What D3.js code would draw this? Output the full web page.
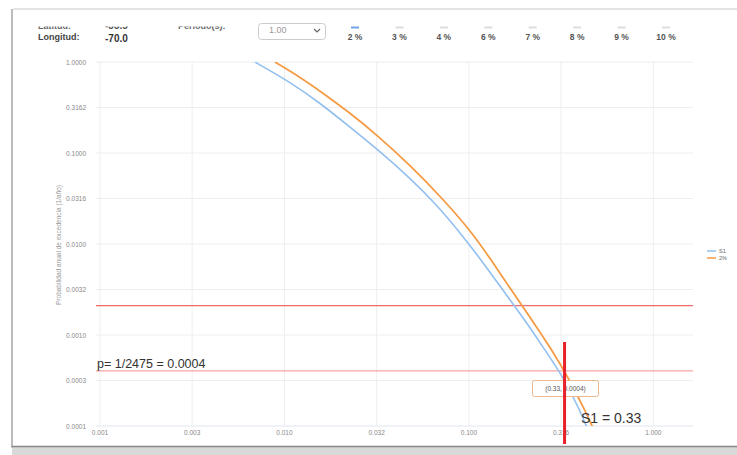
<!DOCTYPE html>
<html>
<head>
<meta charset="utf-8">
<script src="https://d3js.org/d3.v7.min.js"></script>
<style>
  body { margin: 0; background: #fff; }
  svg { display: block; font-family: "Liberation Sans", Arial, sans-serif; }
</style>
</head>
<body>
<script>
// curve values (x = S1 [g], y = annual exceedance probability)
var blueX = [0.00692, 0.01071, 0.01558, 0.02265, 0.03377, 0.04789, 0.06709, 0.09165, 0.1221, 0.1567, 0.2012, 0.2582, 0.3192, 0.3996, 0.4416];
var blueY = [1.0, 0.6029, 0.3544, 0.1931, 0.1, 0.05313, 0.02683, 0.01256, 0.005878, 0.002894, 0.001462, 0.000684, 0.0003634, 0.0001499, 0.00009037];
var orangeX = [0.00888, 0.01213, 0.01617, 0.02265, 0.03173, 0.04789, 0.07227, 0.1013, 0.1300, 0.1710, 0.2196, 0.2818, 0.3440, 0.4253, 0.4818];
var orangeY = [1.0, 0.6843, 0.4563, 0.2752, 0.1577, 0.07382, 0.03124, 0.01425, 0.007017, 0.003045, 0.001462, 0.000684, 0.0003455, 0.0001499, 0.0000859];

var xTicks = [0.001, 0.00316, 0.01, 0.0316, 0.1, 0.316, 1];
var xTickLabels = ["0.001", "0.003", "0.010", "0.032", "0.100", "0.316", "1.000"];
var yTicks = [1, 0.3162, 0.1, 0.0316, 0.01, 0.00316, 0.001, 0.000316, 0.0001];
var yTickLabels = ["1.0000", "0.3162", "0.1000", "0.0316", "0.0100", "0.0032", "0.0010", "0.0003", "0.0001"];

var refProbs = [1 / 475, 1 / 2475];
var pointX = 0.33;
var pointY = 0.0004;
var seriesNames = ["S1", "2%"];
var periodLabels = ["2 %", "3 %", "4 %", "6 %", "7 %", "8 %", "9 %", "10 %"];

var width = 737, height = 455;
var svg = d3.select("body").append("svg").attr("width", width).attr("height", height);

// frame of the screenshot
svg.append("rect").attr("x", 0).attr("y", 0).attr("width", width).attr("height", height).attr("fill", "#fff");
svg.append("line").attr("x1", 13).attr("x2", 737).attr("y1", 9).attr("y2", 9).attr("stroke", "#e4e4e4").attr("stroke-width", 2);
svg.append("line").attr("x1", 12).attr("x2", 12).attr("y1", 9).attr("y2", 448).attr("stroke", "#bbb").attr("stroke-width", 2);
svg.append("rect").attr("x", 12).attr("y", 446).attr("width", 725).attr("height", 9).attr("fill", "#d9d9d9");
svg.append("line").attr("x1", 12).attr("x2", 737).attr("y1", 446.5).attr("y2", 446.5).attr("stroke", "#888").attr("stroke-width", 1.5);

// header (top row is cut by the frame)
var defs = svg.append("defs");
defs.append("clipPath").attr("id", "hdr").append("rect").attr("x", 0).attr("y", 26.5).attr("width", width).attr("height", 30);
var hdr = svg.append("g").attr("clip-path", "url(#hdr)");
hdr.append("text").attr("x", 38).attr("y", 28.5).attr("font-size", 9).attr("font-weight", "bold").attr("fill", "#666").text("Latitud:");
hdr.append("text").attr("x", 105).attr("y", 28.5).attr("font-size", 10).attr("font-weight", "bold").attr("fill", "#555").text("-33.5");
hdr.append("text").attr("x", 178).attr("y", 28.5).attr("font-size", 9).attr("font-weight", "bold").attr("fill", "#666").text("Periodo(s):");
svg.append("text").attr("x", 38).attr("y", 40).attr("font-size", 9).attr("font-weight", "bold").attr("fill", "#444").text("Longitud:");
svg.append("text").attr("x", 105).attr("y", 42).attr("font-size", 10).attr("font-weight", "bold").attr("fill", "#333").text("-70.0");

// select box
svg.append("rect").attr("x", 258.5).attr("y", 23.5).attr("width", 67).attr("height", 16).attr("rx", 3)
  .attr("fill", "#fff").attr("stroke", "#ccc");
svg.append("g").attr("clip-path", "url(#hdr)").append("text").attr("x", 269).attr("y", 33).attr("font-size", 9).attr("fill", "#999").text("1.00");
svg.append("path").attr("d", "M314,29 l3,3 l3,-3").attr("fill", "none").attr("stroke", "#666").attr("stroke-width", 1.2);

// period legend
var periodX = d3.scalePoint().domain(periodLabels).range([355, 666]);
var per = svg.append("g").selectAll("g").data(periodLabels).join("g")
  .attr("transform", d => "translate(" + periodX(d) + ",0)");
per.append("line").attr("x1", -4).attr("x2", 4).attr("y1", 27.5).attr("y2", 27.5)
  .attr("stroke", (d, i) => i === 0 ? "#6fa4e8" : "#ddd").attr("stroke-width", 2);
per.append("text").attr("y", 40).attr("text-anchor", "middle").attr("font-size", 8.5).attr("font-weight", "bold")
  .attr("fill", "#555").text(d => d);

// scales
var x = d3.scaleLog().domain([0.001, 1.64]).range([100, 693]);
var y = d3.scaleLog().domain([0.0001, 1]).range([426, 62]);

// gridlines
svg.append("g").selectAll("line").data(yTicks).join("line")
  .attr("x1", 96).attr("x2", 693).attr("y1", d => y(d)).attr("y2", d => y(d))
  .attr("stroke", (d, i) => i === yTicks.length - 1 ? "#dfe6ef" : "#eee").attr("stroke-width", 1);
svg.append("g").selectAll("line").data(xTicks).join("line")
  .attr("x1", d => x(d)).attr("x2", d => x(d)).attr("y1", 62).attr("y2", 426)
  .attr("stroke", "#eee").attr("stroke-width", 1);

// tick labels
svg.append("g").selectAll("text").data(yTicks).join("text")
  .attr("x", 86).attr("y", d => y(d) + 2.5).attr("text-anchor", "end")
  .attr("font-size", 6.5).attr("fill", "#888").text((d, i) => yTickLabels[i]);
svg.append("g").selectAll("text").data(xTicks).join("text")
  .attr("x", d => x(d)).attr("y", 435).attr("text-anchor", "middle")
  .attr("font-size", 6.5).attr("fill", "#888").text((d, i) => xTickLabels[i]);

svg.append("text").attr("transform", "translate(61,245) rotate(-90)").attr("text-anchor", "middle")
  .attr("font-size", 6.5).attr("fill", "#999").text("Probabilidad anual de excedencia (1/año)");

// reference probability lines
svg.append("g").selectAll("line").data(refProbs).join("line")
  .attr("x1", 96).attr("x2", 693).attr("y1", d => y(d)).attr("y2", d => y(d))
  .attr("stroke", (d, i) => i === 0 ? "#ef6a6a" : "#f7a3a3").attr("stroke-width", 1.2);

// curves
defs.append("clipPath").attr("id", "plot").append("rect").attr("x", 100).attr("y", 62).attr("width", 593).attr("height", 364);
var line = d3.line().x(d => x(d[0])).y(d => y(d[1])).curve(d3.curveBasis);
var plot = svg.append("g").attr("clip-path", "url(#plot)");
plot.append("path").datum(d3.zip(blueX, blueY)).attr("d", line)
  .attr("fill", "none").attr("stroke", "#92bff0").attr("stroke-width", 1.6);
plot.append("path").datum(d3.zip(orangeX, orangeY)).attr("d", line)
  .attr("fill", "none").attr("stroke", "#f59b45").attr("stroke-width", 1.8);

// series legend
var leg = svg.append("g").selectAll("g").data(seriesNames).join("g")
  .attr("transform", (d, i) => "translate(707," + (251 + i * 7) + ")");
leg.append("line").attr("x1", 0).attr("x2", 9).attr("stroke", (d, i) => i === 0 ? "#92bff0" : "#f59b45").attr("stroke-width", 1.5);
leg.append("text").attr("x", 12).attr("y", 2).attr("font-size", 5.5).attr("fill", "#666").text(d => d);

// annotations
svg.append("text").attr("x", 97).attr("y", 368).attr("font-size", 12.5).attr("fill", "#333")
  .text("p= 1/2475 = 0.0004");

svg.append("rect").attr("x", 532.5).attr("y", 380.5).attr("width", 66).attr("height", 16).attr("rx", 2)
  .attr("fill", "#fff").attr("stroke", "#ecb98c");
svg.append("text").attr("x", 565.5).attr("y", 391).attr("text-anchor", "middle").attr("font-size", 6.5)
  .attr("fill", "#555").text("(" + pointX.toFixed(2) + ", " + pointY.toFixed(4) + ")");

svg.append("line").attr("x1", x(pointX)).attr("x2", x(pointX)).attr("y1", 342).attr("y2", 444)
  .attr("stroke", "#e8202a").attr("stroke-width", 3);

svg.append("text").attr("x", 581).attr("y", 423).attr("font-size", 14).attr("fill", "#333")
  .text("S1 = " + pointX.toFixed(2));
</script>
</body>
</html>
